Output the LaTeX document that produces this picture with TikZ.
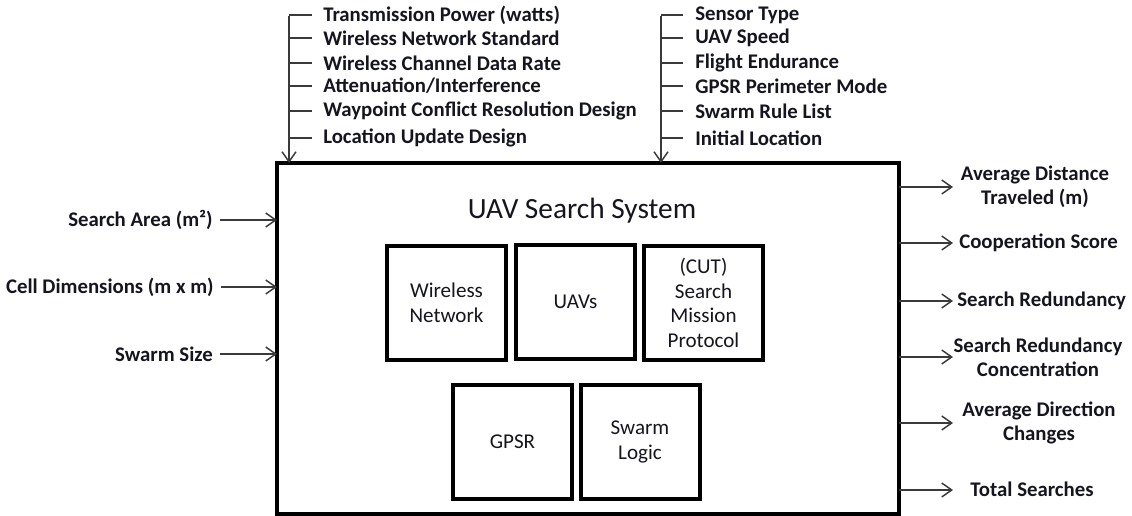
\documentclass[tikz,border=0pt]{standalone}
\usepackage{fontspec}
\setmainfont{Carlito}
\usetikzlibrary{arrows.meta}
\definecolor{linegray}{HTML}{3A3A3A}
\definecolor{txt}{HTML}{151520}
\begin{document}
\begin{tikzpicture}[x=0.75pt,y=-0.75pt,
  lbl/.style={font=\bfseries\fontsize{15.6}{18}\selectfont, inner sep=0pt, text=txt},
  inlbl/.style={font=\fontsize{15.8}{18.5}\selectfont, inner sep=0pt, text=txt, align=center},
  ln/.style={draw=linegray, line width=1.1pt},
  arr/.style={ln, -{Straight Barb[length=7.5pt,width=10.5pt,line width=1.1pt]}},
  sysbox/.style={draw=black, line width=3pt, minimum width=466.5pt, minimum height=263.25pt, inner sep=0pt, outer sep=0pt},
  subbox/.style={draw=black, line width=3pt, minimum width=89.25pt, minimum height=85.5pt, inner sep=0pt, outer sep=0pt, inlbl}
]
\useasboundingbox (0,0) rectangle (1132,516);

% main system box
\node[sysbox] (sys) at (588,338.5) {};
\node[font=\fontsize{22}{26}\selectfont, text=txt, inner sep=0pt] (title) at (582,211) {UAV Search System};

% sub-components
\node[subbox] (wn)  at (446.5,303) {Wireless\\Network};
\node[subbox] (uav) at (575.5,302) {UAVs};
\node[subbox] (cut) at (703.5,303) {(CUT)\\Search\\Mission\\Protocol};
\node[subbox] (gpsr) at (512.5,442) {GPSR};
\node[subbox] (swl) at (640,442) {Swarm\\Logic};

% top-left input group
\coordinate (tl) at (289,16);
\node[lbl, anchor=west] (a1) at (323,15) {Transmission Power (watts)};
\node[lbl, anchor=west] (a2) at (323,38) {Wireless Network Standard};
\node[lbl, anchor=west] (a3) at (323,63) {Wireless Channel Data Rate};
\node[lbl, anchor=west] (a4) at (323,86) {Attenuation/Interference};
\node[lbl, anchor=west] (a5) at (323,111) {Waypoint Conflict Resolution Design};
\node[lbl, anchor=west] (a6) at (323,138) {Location Update Design};
\draw[arr] (tl) -- (tl |- sys.north);
\foreach \n in {a1,a2,a3,a4,a5,a6}
  \draw[ln] (tl |- \n.west) -- ([xshift=-8.25pt]\n.west);

% top-right input group
\coordinate (tr) at (661,16);
\node[lbl, anchor=west] (b1) at (695,15) {Sensor Type};
\node[lbl, anchor=west] (b2) at (695,38) {UAV Speed};
\node[lbl, anchor=west] (b3) at (695,63) {Flight Endurance};
\node[lbl, anchor=west] (b4) at (695,86) {GPSR Perimeter Mode};
\node[lbl, anchor=west] (b5) at (695,111) {Swarm Rule List};
\node[lbl, anchor=west] (b6) at (695,138) {Initial Location};
\draw[arr] (tr) -- (tr |- sys.north);
\foreach \n in {b1,b2,b3,b4,b5,b6}
  \draw[ln] (tr |- \n.west) -- ([xshift=-9pt]\n.west);

% left inputs
\node[lbl, anchor=east] (l1) at (213,220) {Search Area (m²)};
\node[lbl, anchor=east] (l2) at (214,287) {Cell Dimensions (m x m)};
\node[lbl, anchor=east] (l3) at (213,354) {Swarm Size};
\foreach \n in {l1,l2,l3}
  \draw[arr] ([xshift=5pt]\n.east) -- (sys.west |- \n.east);

% right outputs
\node[lbl, align=center] (r1) at (1035,187) {Average Distance\\Traveled (m)};
\node[lbl, anchor=west] (r2) at (959,243) {Cooperation Score};
\node[lbl, anchor=west] (r3) at (957,301) {Search Redundancy};
\node[lbl, align=center] (r4) at (1038,357) {Search Redundancy\\Concentration};
\node[lbl, align=center] (r5) at (1039,423) {Average Direction\\Changes};
\node[lbl, align=center] (r6) at (1032,489) {Total Searches};
\coordinate (o1) at (953,187);
\coordinate (o2) at (953,243);
\coordinate (o3) at (953,301);
\coordinate (o4) at (953,357);
\coordinate (o5) at (953,423);
\coordinate (o6) at (953,490);
\foreach \c in {o1,o2,o3,o4,o5,o6}
  \draw[arr] (sys.east |- \c) -- (\c);
\end{tikzpicture}
\end{document}
